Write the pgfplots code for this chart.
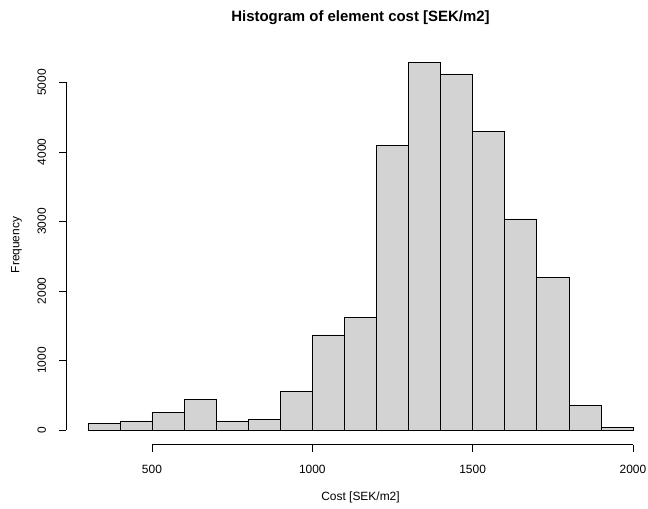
\documentclass[border=0pt]{standalone}
\usepackage{pgfplots}
\pgfplotsset{compat=1.18}
\usepackage{fontspec}
\setmainfont{Liberation Sans}
\definecolor{barfill}{HTML}{D3D3D3}
\begin{document}
\begin{tikzpicture}
\path[use as bounding box] (0bp,0bp) rectangle (648bp,509bp);
\begin{axis}[
  at={(66bp,64.3bp)}, anchor=south west,
  scale only axis, width=588.8bp, height=397.1bp,
  xmin=232, xmax=2068, ymin=-211.6, ymax=5501.6,
  axis lines*=left, axis line style={draw=none},
  xtick={500,1000,1500,2000}, ytick={0,1000,2000,3000,4000,5000},
  tick align=outside, major tick length=7bp,
  tick style={black, line width=0.6pt},
  /pgf/number format/assume math mode=true,
  /pgf/number format/1000 sep={},
  tick label style={font=\fontsize{12}{14}\selectfont},
  yticklabel style={rotate=90, anchor=south},
  yticklabel shift=9.5bp,
  xticklabel style={yshift=-9.5bp},
  clip=false,
]
\addplot[ybar interval, fill=barfill, draw=black, line width=0.6pt] coordinates {
(300,96) (400,130) (500,255) (600,440) (700,130) (800,155) (900,557)
(1000,1367) (1100,1621) (1200,4096) (1300,5290) (1400,5122) (1500,4292)
(1600,3036) (1700,2192) (1800,355) (1900,39) (2000,39)};
\draw[black, line width=0.6pt] (axis cs:500,-211.6) -- (axis cs:2000,-211.6);
\draw[black, line width=0.6pt] (axis cs:232,0) -- (axis cs:232,5000);
\end{axis}
\node[font=\fontsize{15}{17}\selectfont\bfseries] at (360.5bp,491bp) {Histogram of element cost [SEK/m2]};
\node[font=\fontsize{12}{14}\selectfont] at (360.5bp,12bp) {Cost [SEK/m2]};
\node[font=\fontsize{12}{14}\selectfont, rotate=90] at (16.5bp,264bp) {Frequency};
\end{tikzpicture}
\end{document}
